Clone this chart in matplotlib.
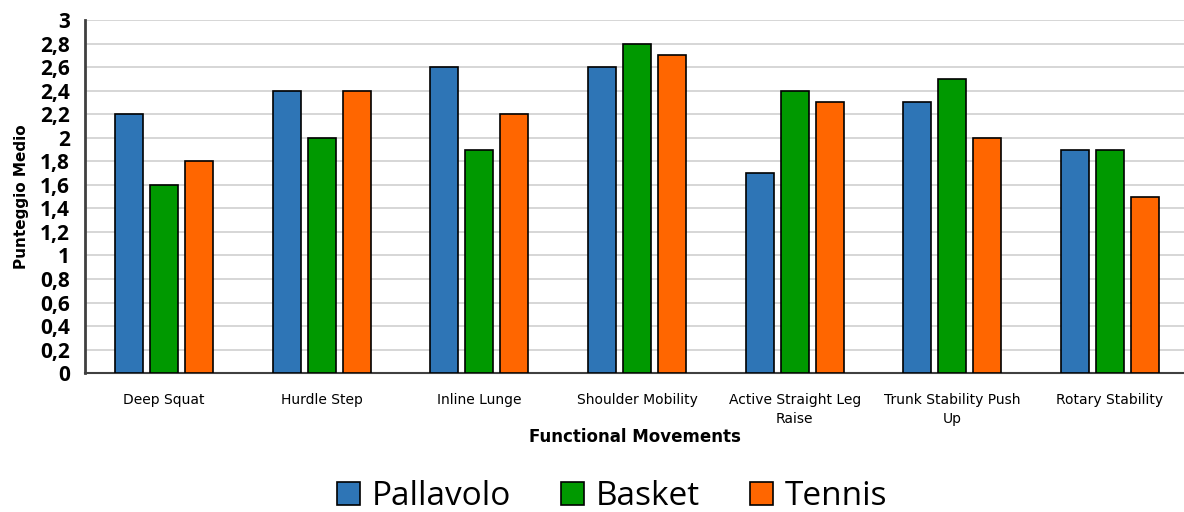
import numpy as np
import matplotlib.pyplot as plt

movements = ['Deep Squat', 'Hurdle Step', 'Inline Lunge', 'Shoulder Mobility',
             'Active Straight Leg\nRaise', 'Trunk Stability Push\nUp', 'Rotary Stability']
pallavolo = [2.2, 2.4, 2.6, 2.6, 1.7, 2.3, 1.9]
basket = [1.6, 2.0, 1.9, 2.8, 2.4, 2.5, 1.9]
tennis = [1.8, 2.4, 2.2, 2.7, 2.3, 2.0, 1.5]
yticks = [0, 0.2, 0.4, 0.6, 0.8, 1, 1.2, 1.4, 1.6, 1.8, 2, 2.2, 2.4, 2.6, 2.8, 3]

fig = plt.figure(figsize=(11.84, 5.12), dpi=100)
ax = fig.add_axes([0.072, 0.271, 0.928, 0.690])

x = np.arange(len(movements))
w = 0.178
off = 0.222
series = [('Pallavolo', pallavolo, '#2E75B6'),
          ('Basket', basket, '#009900'),
          ('Tennis', tennis, '#FF6600')]
for i, (name, vals, col) in enumerate(series):
    ax.bar(x + (i - 1) * off, vals, w, color=col, edgecolor='black',
           linewidth=1.2, label=name, zorder=3)

ax.set_ylim(0, 3)
ax.set_xlim(-0.5, 6.47)
ax.set_yticks(yticks)
ax.set_yticklabels([('%g' % v).replace('.', ',') for v in yticks],
                   fontsize=15, fontweight='bold', family='Open Sans')
ax.set_xticks(x)
ax.set_xticklabels(movements, fontsize=10, family='DejaVu Sans',
                   linespacing=1.5)
ax.tick_params(axis='both', length=0)
ax.tick_params(axis='x', pad=14)
ax.tick_params(axis='y', pad=11)
ax.yaxis.grid(True, color='#d0d0d0', linewidth=1.2, zorder=0)

for s in ['top', 'right']:
    ax.spines[s].set_visible(False)
ax.spines['left'].set_color('#404040')
ax.spines['left'].set_linewidth(2)
ax.spines['bottom'].set_color('#404040')
ax.spines['bottom'].set_linewidth(1.5)

ax.set_ylabel('Punteggio Medio', fontsize=11, fontweight='bold', labelpad=8)
ax.set_xlabel('Functional Movements', fontsize=12, fontweight='bold', labelpad=1)

fig.legend(loc='center', bbox_to_anchor=(0.517, 0.03), ncol=3, frameon=False,
           prop={'family': 'Open Sans', 'size': 24}, handlelength=0.7,
           handleheight=0.7, handletextpad=0.35, columnspacing=1.5)

fig.savefig('out.png', dpi=100)
